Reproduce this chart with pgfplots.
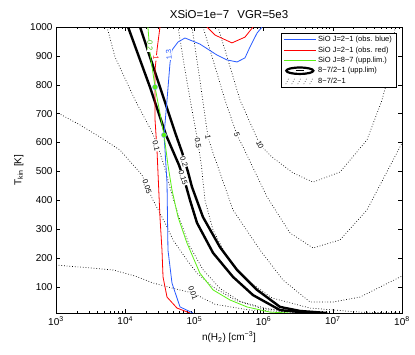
\documentclass[border=0pt]{standalone}
\usepackage{fontspec}
\setmainfont{Liberation Sans}
\usepackage{pgfplots}
\pgfplotsset{compat=1.18}

\definecolor{mblue}{RGB}{40,90,255}
\definecolor{mred}{RGB}{255,0,0}
\definecolor{mgreen}{RGB}{90,240,20}

\tikzset{
  clab/.style={font=\fontsize{7.5}{8}\selectfont, fill=white, inner sep=0.6pt},
  ratio/.style={black, dotted, line width=0.7pt},
  ulim/.style={black, line width=2.4pt},
}

\begin{document}
\begin{tikzpicture}
\path[use as bounding box] (-56pt,-42pt) rectangle (359pt,313pt);
\begin{axis}[
  at={(0pt,0pt)}, anchor=south west,
  scale only axis, width=346pt, height=286pt,
  xmode=log, xmin=1e3, xmax=1e8, ymin=10, ymax=1000,
  xtick={1e3,1e4,1e5,1e6,1e7,1e8},
  xticklabels={10\textsuperscript{3},10\textsuperscript{4},10\textsuperscript{5},
               10\textsuperscript{6},10\textsuperscript{7},10\textsuperscript{8}},
  ytick={100,200,300,400,500,600,700,800,900,1000},
  tick align=inside,
  major tick length=4pt, minor tick length=2pt,
  every tick/.style={black, line width=0.4pt},
  axis line style={line width=0.6pt},
  ticklabel style={font=\fontsize{10}{12}\selectfont},
  /pgf/number format/1000 sep={},
  /pgf/number format/assume math mode=true,
  title={XSiO=1e−7\hspace{0.7em}VGR=5e3},
  title style={font=\fontsize{11.5}{13}\selectfont, yshift=-1pt},
  xlabel={n(H\textsubscript{2}) [cm\textsuperscript{−3}]},
  ylabel={T\textsubscript{kin} [K]},
  label style={font=\fontsize{10}{12}\selectfont},
  legend cell align=left,
  legend style={at={(0.983,0.979)}, anchor=north east, draw=black,
    line width=0.5pt, fill=white, font=\fontsize{7.5}{8}\selectfont,
    inner xsep=2pt, inner ysep=1pt, row sep=-0.6pt},
  legend image code/.code={\draw[#1] (0pt,0pt) -- (32pt,0pt);},
]

% ---- 8-7/2-1 ratio contours (dotted)
\addplot[ratio, forget plot] coordinates {
  (1e3,176)(2.22e3,169)(6.67e3,159)(1.39e4,138)(2.52e4,114)
  (5.0e4,95)(9.55e4,79)(1.99e5,40)(6.36e5,20)(3.0e6,13)(9e6,10)};
\addplot[ratio, forget plot] coordinates {
  (1e3,706)(2.22e3,661)(4.32e3,619)(8.42e3,574)(1.75e4,488)(2.07e4,446)
  (2.52e4,401)(3.76e4,322)(4.91e4,263)(7.81e4,193)(1.09e5,148)
  (1.86e5,100)(3.86e5,55)(8.87e5,27)(2.41e6,13)(5e6,10)};
\addplot[ratio, forget plot] coordinates {
  (5.46e3,1000)(7.13e3,896)(1.39e4,747)(2.28e4,650)(2.88e4,598)
  (3.64e4,520)(4.74e4,420)(6.19e4,330)(8.63e4,240)(1.33e5,160)
  (2.34e5,95)(4.56e5,50)(1.12e6,25)(3.36e6,13)(8e6,10)};
\addplot[ratio, forget plot] coordinates {
  (5.80e4,1000)(7.31e4,851)(9.23e4,713)(1.13e5,598)(1.26e5,522)
  (1.42e5,401)(1.86e5,297)(2.96e5,204)(5.75e5,124)(1.32e6,62)
  (4.69e6,27)(2.47e7,13)(1e8,10)};
\addplot[ratio, forget plot] coordinates {
  (9.23e4,1000)(1.20e5,817)(1.57e5,619)(1.86e5,564)(3.61e5,367)
  (8.87e5,228)(1.91e6,124)(4.69e6,48)(1.01e7,48)(2.47e7,65)(1e8,138)};
\addplot[ratio, forget plot] coordinates {
  (1.33e5,1000)(1.86e5,886)(2.77e5,747)(4.13e5,626)(5.04e5,585)
  (1.12e6,412)(2.41e6,287)(5.18e6,235)(1.27e7,263)(3.12e7,367)
  (9.36e7,585)(1e8,598)};
\addplot[ratio, forget plot] coordinates {
  (2.19e5,1000)(3.06e5,886)(4.56e5,747)(8.87e5,592)(1.32e6,550)
  (2.66e6,495)(5.18e6,463)(1.27e7,498)(3.12e7,609)(5.14e7,747)
  (6.71e7,851)(7.93e7,1000)};

% ---- 8-7/2-1 upper limit contours (thick)
\addplot[ulim, forget plot] coordinates {
  (1.64e4,1000)(3.18e4,792)(5.42e4,626)(6.62e4,567)(8.09e4,498)
  (9.23e4,446)(1.33e5,342)(2.34e5,238)(4.13e5,159)(8.04e5,90)
  (1.73e6,31)(3.36e6,17)(8.25e6,10)};
\addplot[ulim, forget plot] coordinates {
  (1.10e4,1000)(2.28e4,792)(3.89e4,626)(5.99e4,522)(7.31e4,463)
  (8.63e4,401)(1.09e5,322)(1.86e5,218)(3.61e5,135)(7.03e5,72)
  (1.73e6,20)(4.69e6,10)};

% ---- SiO J=2-1 observed, blue
\addplot[mblue, line width=0.8pt, forget plot] coordinates {
  (9.5e5,1000)(8.04e5,979)(6.36e5,931)(5.38e5,893)(4.13e5,879)
  (2.96e5,886)(2.12e5,903)(1.20e5,941)(7.31e4,962)(5.80e4,948)
  (4.74e4,920)(4.44e4,875)(4.02e4,747)(3.64e4,626)(3.76e4,574)
  (4.02e4,460)(4.15e4,228)(4.74e4,114)(6.19e4,31)(9.55e4,10)};
% ---- SiO J=2-1 observed, red
\addplot[mred, line width=0.8pt, forget plot] coordinates {
  (3.18e4,1000)(2.88e4,920)(2.70e4,851)(2.70e4,792)(2.70e4,678)
  (2.88e4,574)(3.18e4,342)(3.40e4,228)(3.52e4,135)(4.02e4,65)
  (5.61e4,27)(8.63e4,10)};
\addplot[mred, line width=0.8pt, forget plot] coordinates {
  (1.52e5,1000)(1.99e5,972)(3.49e5,945)(5.38e5,965)(7.03e5,1000)};
% ---- SiO J=8-7 upper limit, green
\addplot[mgreen, line width=0.8pt, forget plot] coordinates {
  (2.13e4,1000)(2.28e4,910)(2.70e4,792)(3.64e4,626)(4.15e4,522)
  (4.74e4,436)(5.80e4,342)(7.81e4,252)(1.20e5,148)(1.86e5,90)
  (3.27e5,55)(5.75e5,31)(1.24e6,13)(2.41e6,10)};

% ---- intersections
\addplot[only marks, mark=*, mark size=2.6pt, mark options={fill=mgreen, draw=mblue!60, line width=0.4pt}, forget plot]
  coordinates {(2.70e4,792)(3.64e4,626)};

% ---- contour labels
\node[clab, rotate=-70] at (axis cs:9.55e4,79) {0.01};
\node[clab, rotate=-72] at (axis cs:2.07e4,446) {0.05};
\node[clab, rotate=-75] at (axis cs:2.80e4,590) {0.1};
\node[clab, rotate=-80] at (axis cs:1.13e5,598) {0.5};
\node[clab, rotate=-80] at (axis cs:1.57e5,619) {1};
\node[clab, rotate=-72] at (axis cs:4.13e5,626) {5};
\node[clab, rotate=-65] at (axis cs:8.87e5,592) {10};
\node[clab, rotate=-72] at (axis cs:7.08e4,535) {0.2};
\node[clab, rotate=-72] at (axis cs:6.85e4,478) {0.15};
\node[clab, rotate=-90, text=mgreen!80!black] at (axis cs:2.28e4,935) {0.2};
\node[clab, rotate=-95, text=mred] at (axis cs:2.79e4,893) {1};
\node[clab, rotate=95, text=mblue] at (axis cs:4.29e4,905) {1.3};

% ---- legend
\addlegendimage{mblue, line width=0.8pt}
\addlegendentry{SiO J=2−1 (obs. blue)}
\addlegendimage{mred, line width=0.8pt}
\addlegendentry{SiO J=2−1 (obs. red)}
\addlegendimage{mgreen, line width=0.8pt}
\addlegendentry{SiO J=8−7 (upp.lim.)}
\addlegendimage{legend image code/.code={
  \draw[black, line width=2.2pt] (16pt,0pt) ellipse (13.5pt and 3.2pt);
  \draw[black, line width=1.2pt] (12pt,0pt) -- (20pt,0pt);}}
\addlegendentry{8−7/2−1 (upp.lim)}
\addlegendimage{legend image code/.code={
  \draw[black, dotted, line width=0.6pt] (2pt,-3pt) -- (5pt,3pt);
  \draw[black, dotted, line width=0.6pt] (8pt,-3pt) -- (11pt,3pt);
  \draw[black, dotted, line width=0.6pt] (14pt,-3pt) -- (17pt,3pt);
  \draw[black, dotted, line width=0.6pt] (20pt,-3pt) -- (23pt,3pt);
  \draw[black, dotted, line width=0.6pt] (26pt,-3pt) -- (29pt,3pt);}}
\addlegendentry{8−7/2−1}
\end{axis}
\end{tikzpicture}
\end{document}
